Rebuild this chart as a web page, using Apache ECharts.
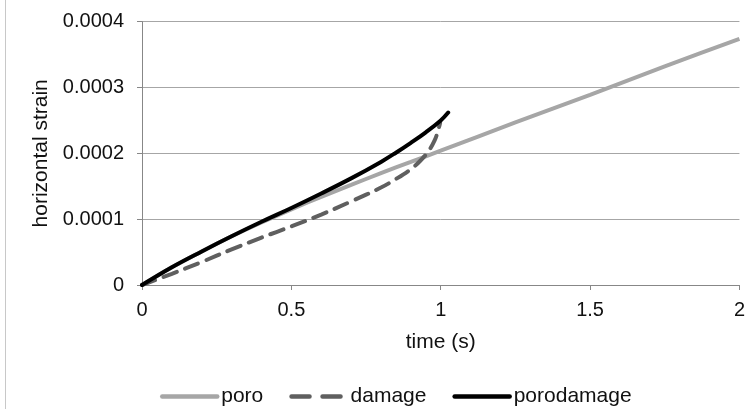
<!DOCTYPE html>
<html>
<head>
<meta charset="utf-8">
<title>horizontal strain</title>
<script src="https://cdn.jsdelivr.net/npm/echarts@6/dist/echarts.min.js"></script>
<style>
  html, body { margin: 0; padding: 0; background: #fff; }
  #chart { width: 748px; height: 409px; }
</style>
</head>
<body>
<div id="chart"></div>
<script>
// data
const poroTime = [0, 0.1, 0.2, 0.3, 0.4, 0.5, 0.6, 0.7, 0.8, 0.9, 1.0, 1.25, 1.5, 1.75, 2.0]
const poroStrain = [0, 2.7e-5, 5.1e-5, 7.4e-5, 9.5e-5, 1.15e-4, 1.34e-4, 1.52e-4, 1.70e-4, 1.87e-4, 2.04e-4, 2.47e-4, 2.89e-4, 3.32e-4, 3.74e-4]

const damageTime = [0, 0.1, 0.2, 0.3, 0.4, 0.5, 0.6, 0.7, 0.8, 0.85, 0.9, 0.93, 0.96, 0.98, 0.99, 0.998]
const damageStrain = [0, 1.7e-5, 3.5e-5, 5.4e-5, 7.2e-5, 8.9e-5, 1.07e-4, 1.27e-4, 1.48e-4, 1.61e-4, 1.76e-4, 1.88e-4, 2.04e-4, 2.20e-4, 2.33e-4, 2.46e-4]

const porodamageTime = [0, 0.1, 0.2, 0.3, 0.4, 0.5, 0.6, 0.7, 0.8, 0.85, 0.9, 0.95, 1.0, 1.025]
const porodamageStrain = [0, 2.7e-5, 5.1e-5, 7.4e-5, 9.6e-5, 1.17e-4, 1.39e-4, 1.62e-4, 1.87e-4, 2.01e-4, 2.16e-4, 2.32e-4, 2.50e-4, 2.62e-4]

const seriesNames = ['poro', 'damage', 'porodamage']
const xTicks = [0, 2, 0.5]          // min, max, interval
const yTicks = [0, 0.0004, 0.0001]  // min, max, interval

const font = '"Liberation Sans", Arial, sans-serif'
const textColor = '#111'

const pairs = (xs, ys) => xs.map((x, i) => [x, ys[i]])

const chart = echarts.init(document.getElementById('chart'), null, { renderer: 'canvas' })

const option = {
  backgroundColor: '#fff',
  animation: false,
  textStyle: { fontFamily: font },
  grid: {
    left: 142,
    right: 1.5,
    top: 21.7,
    bottom: 124
  },
  xAxis: {
    type: 'value',
    min: xTicks[0],
    max: xTicks[1],
    interval: xTicks[2],
    name: 'time (s)',
    nameLocation: 'middle',
    nameGap: 47,
    nameTextStyle: { color: textColor, fontSize: 21, fontFamily: font },
    axisLine: { lineStyle: { color: '#878787', width: 1 } },
    axisTick: { show: true, length: 5, lineStyle: { color: '#878787' } },
    axisLabel: { color: textColor, fontSize: 20, fontFamily: font, margin: 15 },
    splitLine: { show: false }
  },
  yAxis: {
    type: 'value',
    min: yTicks[0],
    max: yTicks[1],
    interval: yTicks[2],
    name: 'horizontal strain',
    nameLocation: 'middle',
    nameGap: 82,
    nameTextStyle: { color: textColor, fontSize: 21, fontFamily: font },
    axisLine: { show: true, lineStyle: { color: '#878787', width: 1 } },
    axisTick: { show: true, length: 5, lineStyle: { color: '#878787' } },
    axisLabel: {
      color: textColor,
      fontSize: 20,
      fontFamily: font,
      margin: 18,
      formatter: v => (v === 0 ? '0' : v.toFixed(4))
    },
    splitLine: { lineStyle: { color: '#a6a6a6', width: 1 } }
  },
  legend: {
    data: [
      { name: seriesNames[0] },
      { name: seriesNames[1], lineStyle: { type: [18, 13] } },
      { name: seriesNames[2] }
    ],
    left: 160,
    top: 386,
    padding: 0,
    itemWidth: 55,
    itemHeight: 20,
    itemGap: 26,
    itemStyle: { opacity: 0 },
    lineStyle: { width: 4.5, cap: 'round' },
    textStyle: { color: textColor, fontSize: 21, fontFamily: font, padding: [0, 0, 0, -1] }
  },
  series: [
    {
      name: seriesNames[0],
      type: 'line',
      data: pairs(poroTime, poroStrain),
      smooth: 0.2,
      symbol: 'none',
      lineStyle: { color: '#a6a6a6', width: 4 },
      itemStyle: { color: '#a6a6a6' }
    },
    {
      name: seriesNames[1],
      type: 'line',
      data: pairs(damageTime, damageStrain),
      smooth: 0.4,
      symbol: 'none',
      lineStyle: { color: '#5f5f5f', width: 4, type: [14, 9], cap: 'round' },
      itemStyle: { color: '#5f5f5f' }
    },
    {
      name: seriesNames[2],
      type: 'line',
      data: pairs(porodamageTime, porodamageStrain),
      smooth: 0.4,
      symbol: 'none',
      lineStyle: { color: '#000', width: 4, cap: 'round' },
      itemStyle: { color: '#000' }
    }
  ],
  // thin frame line on the far left of the figure
  graphic: [
    {
      type: 'line',
      shape: { x1: 5.5, y1: 0, x2: 5.5, y2: 409 },
      style: { stroke: '#c8c8c8', lineWidth: 1 },
      silent: true
    }
  ]
}

chart.setOption(option)
</script>
</body>
</html>
